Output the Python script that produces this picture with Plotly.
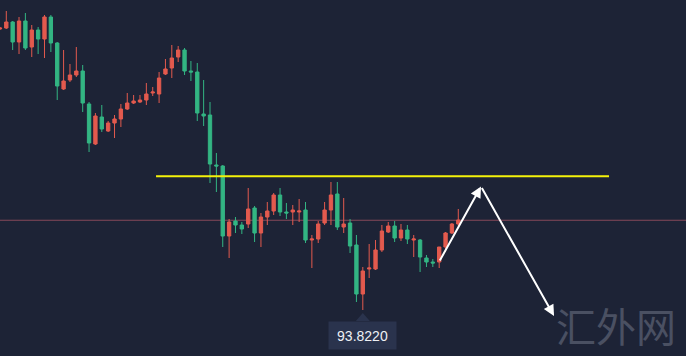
import numpy as np
import plotly.graph_objects as go

# Candle data (price units)
opens = [94.946, 94.950, 94.974, 94.894, 94.978, 94.874, 94.942, 94.906, 94.994, 94.890,
         94.706, 94.742, 94.762, 94.778, 94.646, 94.486, 94.594, 94.538, 94.570, 94.586,
         94.626, 94.650, 94.654, 94.662, 94.690, 94.686, 94.766, 94.790, 94.834, 94.862,
         94.778, 94.774, 94.606, 94.602, 94.402, 94.398, 94.118, 94.178, 94.162, 94.166,
         94.230, 94.130, 94.194, 94.218, 94.282, 94.214, 94.214, 94.214, 94.222, 94.102,
         94.106, 94.170, 94.222, 94.286, 94.154, 94.170, 94.082, 93.886, 93.986, 93.986,
         94.062, 94.134, 94.158, 94.110, 94.142, 94.102, 94.102, 94.030, 94.014, 94.014,
         94.074, 94.130, 94.166]
highs = [94.954, 95.018, 94.978, 94.994, 95.010, 94.962, 94.954, 95.002, 95.002, 94.894,
         94.862, 94.806, 94.874, 94.802, 94.654, 94.610, 94.642, 94.578, 94.602, 94.646,
         94.690, 94.682, 94.682, 94.730, 94.714, 94.774, 94.826, 94.882, 94.878, 94.870,
         94.818, 94.810, 94.742, 94.654, 94.450, 94.402, 94.186, 94.194, 94.174, 94.310,
         94.238, 94.210, 94.254, 94.290, 94.310, 94.250, 94.242, 94.266, 94.254, 94.122,
         94.178, 94.254, 94.334, 94.334, 94.270, 94.186, 94.122, 93.994, 94.086, 94.102,
         94.162, 94.174, 94.178, 94.166, 94.162, 94.122, 94.106, 94.042, 94.026, 94.074,
         94.134, 94.170, 94.226]
lows = [94.942, 94.946, 94.862, 94.846, 94.862, 94.834, 94.846, 94.830, 94.854, 94.662,
        94.702, 94.734, 94.754, 94.614, 94.454, 94.482, 94.534, 94.534, 94.510, 94.554,
        94.622, 94.646, 94.650, 94.642, 94.678, 94.650, 94.762, 94.750, 94.814, 94.762,
        94.738, 94.578, 94.558, 94.330, 94.294, 94.074, 94.030, 94.130, 94.126, 94.150,
        94.094, 94.074, 94.162, 94.202, 94.198, 94.186, 94.162, 94.174, 94.090, 93.990,
        94.090, 94.162, 94.162, 94.142, 94.130, 94.050, 93.854, 93.822, 93.950, 93.982,
        94.054, 94.130, 94.094, 94.098, 94.086, 94.034, 93.974, 93.994, 93.994, 93.990,
        94.054, 94.126, 94.158]
closes = [94.950, 94.974, 94.894, 94.978, 94.870, 94.942, 94.906, 94.994, 94.890, 94.718,
          94.738, 94.762, 94.778, 94.650, 94.490, 94.598, 94.546, 94.570, 94.586, 94.626,
          94.650, 94.658, 94.662, 94.686, 94.694, 94.750, 94.786, 94.830, 94.862, 94.778,
          94.774, 94.610, 94.598, 94.406, 94.398, 94.118, 94.174, 94.162, 94.146, 94.226,
          94.130, 94.194, 94.218, 94.282, 94.214, 94.210, 94.222, 94.218, 94.102, 94.106,
          94.166, 94.222, 94.282, 94.154, 94.166, 94.078, 93.886, 93.978, 93.990, 94.062,
          94.138, 94.158, 94.110, 94.142, 94.106, 94.106, 94.034, 94.014, 94.010, 94.074,
          94.130, 94.166, 94.182]

resistance_level = 94.357   # yellow line
current_price = 94.181      # thin red line
watermark = "汇外网"

# Hand-drawn arrow path (bar index, price)
arrow_points = [(68.97, 94.014), (75.57, 94.316), (87.04, 93.798)]
resistance_span = (24.52, 95.68)

BG = "#1d2336"
UP = "#e35a4e"
DOWN = "#33b583"

idx = list(range(len(opens)))
fig = go.Figure()
fig.add_trace(go.Candlestick(
    x=idx, open=opens, high=highs, low=lows, close=closes,
    increasing=dict(line=dict(color=UP, width=1), fillcolor=UP),
    decreasing=dict(line=dict(color=DOWN, width=1), fillcolor=DOWN),
    whiskerwidth=0, hoverinfo="skip", showlegend=False,
))

# horizontal lines
fig.add_shape(type="line", xref="paper", x0=0, x1=1, yref="y",
              y0=current_price, y1=current_price,
              line=dict(color="#85485a", width=1), layer="below")
fig.add_shape(type="line", xref="x", x0=resistance_span[0], x1=resistance_span[1],
              yref="y", y0=resistance_level, y1=resistance_level,
              line=dict(color="#f4f20a", width=2))

# arrows
for (x0, y0), (x1, y1) in zip(arrow_points[:-1], arrow_points[1:]):
    fig.add_annotation(x=x1, y=y1, ax=x0, ay=y0, xref="x", yref="y",
                       axref="x", ayref="y", text="", showarrow=True,
                       arrowhead=2, arrowsize=1.1, arrowwidth=2,
                       arrowcolor="#ffffff", standoff=0)

# minimum label
imin = int(np.argmin(lows))
lowv = lows[imin]
fig.add_shape(type="path", xref="x", yref="y", xsizemode="pixel", ysizemode="pixel",
              xanchor=imin, yanchor=lowv,
              path="M0,-3 L-7,-11 L7,-11 Z",
              fillcolor="#2a334d", line=dict(width=0))
fig.add_annotation(x=imin, y=lowv, xref="x", yref="y", text=f"{lowv:.4f}",
                   showarrow=False, yanchor="top", yshift=-11,
                   width=67, height=27, borderpad=0, bgcolor="#2a334d",
                   font=dict(family="Liberation Sans, Arial", size=14, color="#eef0f4"))

# watermark
fig.add_annotation(xref="paper", yref="paper", x=0.898, y=0.087, text=watermark,
                   showarrow=False, xanchor="center", yanchor="middle",
                   font=dict(family="Noto Sans CJK SC", size=40, color="#4a5062"))

fig.update_layout(
    width=686, height=356, margin=dict(l=0, r=0, t=0, b=0),
    paper_bgcolor=BG, plot_bgcolor=BG, showlegend=False, boxgap=0.25,
    xaxis=dict(range=[0.011, 107.77], visible=False, rangeslider=dict(visible=False),
               showgrid=False, zeroline=False),
    yaxis=dict(range=[93.638, 95.062], visible=False, showgrid=False, zeroline=False),
)
fig.write_html("out.html", config={"displayModeBar": False},
               post_script="document.body.style.margin='0';document.body.style.overflow='hidden';document.body.style.background='#1d2336';")
